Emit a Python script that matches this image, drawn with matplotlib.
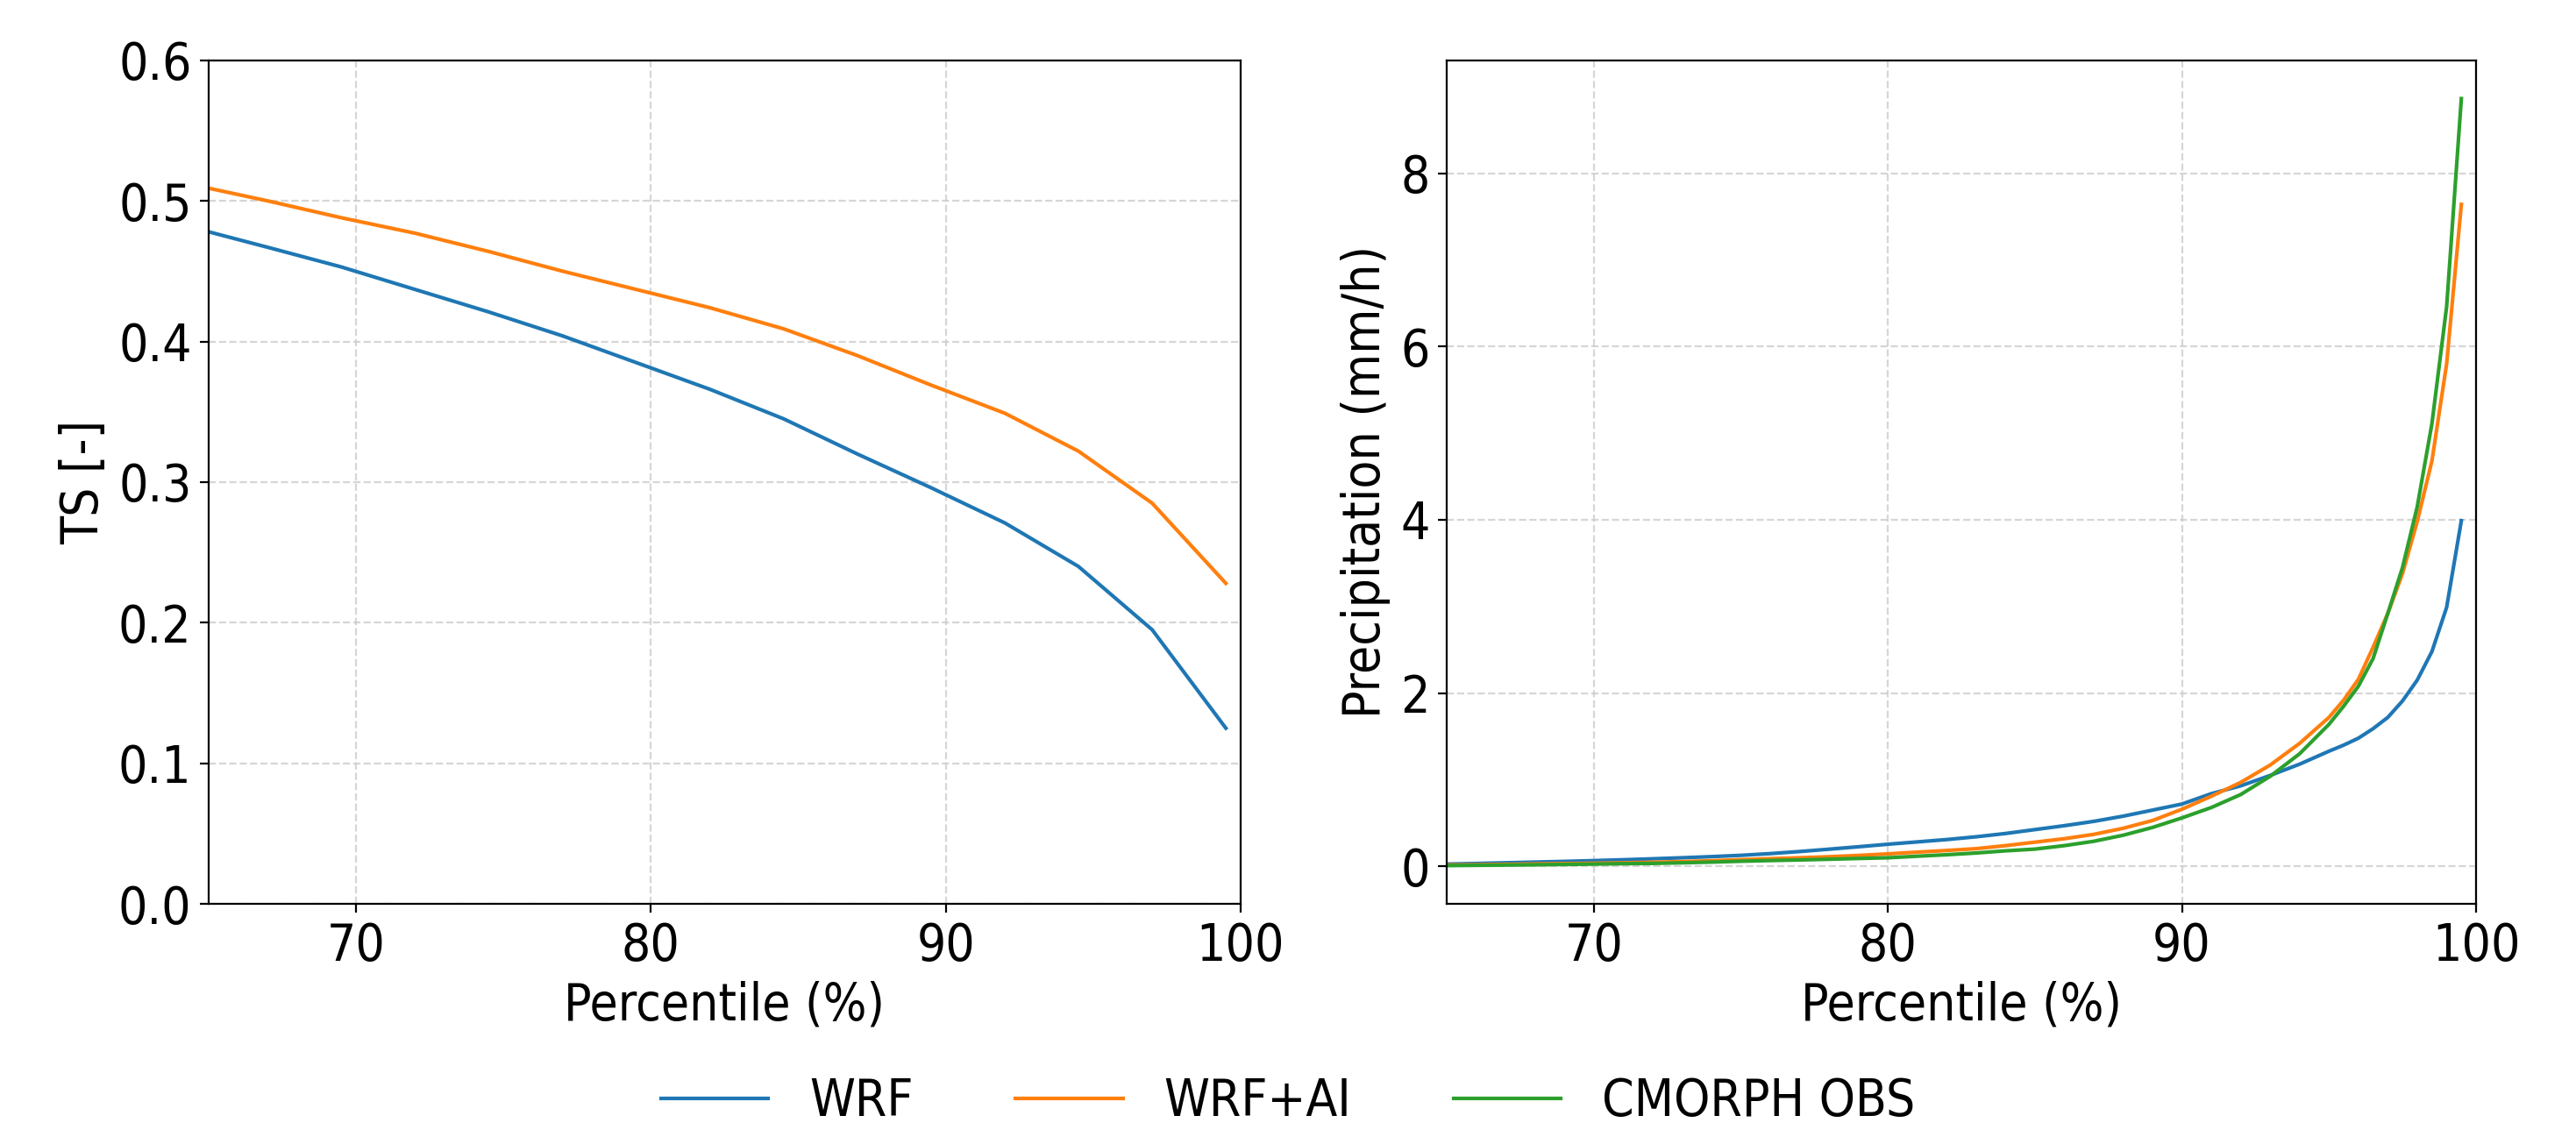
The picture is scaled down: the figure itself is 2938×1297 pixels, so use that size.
import numpy as np
import matplotlib
matplotlib.use('Agg')
import matplotlib.pyplot as plt

# left panel: threat score vs percentile threshold
ts_pct = [65, 67, 69.5, 72, 74.5, 77, 79.5, 82, 84.5, 87, 89.5, 92, 94.5, 97, 99.5]
ts_wrf = [0.478, 0.467, 0.453, 0.437, 0.421, 0.404, 0.385, 0.366, 0.345, 0.320,
          0.296, 0.271, 0.240, 0.195, 0.125]
ts_wrf_ai = [0.509, 0.500, 0.488, 0.477, 0.464, 0.450, 0.437, 0.424, 0.409, 0.390,
             0.369, 0.349, 0.322, 0.285, 0.228]

# right panel: precipitation at percentile
pr_pct = [65, 66, 67, 68, 69, 70, 71, 72, 73, 74, 75, 76, 77, 78, 79, 80, 81, 82, 83, 84,
          85, 86, 87, 88, 89, 90, 91, 92, 93, 94, 95, 95.5, 96, 96.5, 97, 97.5, 98,
          98.5, 99, 99.5]
pr_wrf = [0.027, 0.034, 0.042, 0.050, 0.058, 0.067, 0.077, 0.088, 0.100, 0.113,
          0.128, 0.148, 0.172, 0.199, 0.227, 0.256, 0.283, 0.310, 0.342, 0.380,
          0.425, 0.470, 0.520, 0.580, 0.650, 0.720, 0.840, 0.930, 1.050, 1.180,
          1.330, 1.400, 1.480, 1.590, 1.720, 1.910, 2.150, 2.480, 2.990, 3.990]
pr_wrf_ai = [0.017, 0.020, 0.024, 0.029, 0.033, 0.037, 0.042, 0.048, 0.056, 0.066,
             0.078, 0.090, 0.100, 0.112, 0.127, 0.145, 0.165, 0.184, 0.205, 0.240,
             0.280, 0.320, 0.370, 0.440, 0.530, 0.660, 0.810, 0.970, 1.170, 1.420,
             1.720, 1.920, 2.160, 2.530, 2.920, 3.380, 3.980, 4.680, 5.800, 7.640]
pr_obs = [0.010, 0.013, 0.016, 0.019, 0.023, 0.027, 0.032, 0.035, 0.042, 0.050,
          0.060, 0.068, 0.075, 0.083, 0.092, 0.100, 0.118, 0.135, 0.155, 0.180,
          0.200, 0.240, 0.290, 0.360, 0.450, 0.560, 0.680, 0.830, 1.040, 1.300,
          1.640, 1.850, 2.080, 2.400, 2.920, 3.450, 4.150, 5.110, 6.460, 8.860]

labels = ['WRF', 'WRF+AI', 'CMORPH OBS']
colors = ['#1f77b4', '#ff7f0e', '#2ca02c']

plt.rcParams['font.family'] = ['DejaVu Sans']
plt.rcParams['font.stretch'] = 'condensed'
plt.rcParams['font.size'] = 21

fig = plt.figure(figsize=(14.69, 6.485), dpi=200)
ax1 = fig.add_axes([0.081, 0.205, 0.4006, 0.742])
ax2 = fig.add_axes([0.5616, 0.205, 0.3996, 0.742])

ax1.plot(ts_pct, ts_wrf, color=colors[0], lw=1.5)
ax1.plot(ts_pct, ts_wrf_ai, color=colors[1], lw=1.5)
ax1.set_xlim(65, 100)
ax1.set_ylim(0, 0.6)
ax1.set_xticks([70, 80, 90, 100])
ax1.set_xlabel('Percentile (%)')
ax1.set_ylabel('TS [-]')
ax1.grid(True, ls='--', color='#cccccc', alpha=0.8, lw=0.8)

l1, = ax2.plot(pr_pct, pr_wrf, color=colors[0], lw=1.5)
l2, = ax2.plot(pr_pct, pr_wrf_ai, color=colors[1], lw=1.5)
l3, = ax2.plot(pr_pct, pr_obs, color=colors[2], lw=1.5)
ax2.set_xlim(65, 100)
ax2.set_xticks([70, 80, 90, 100])
ax2.set_yticks([0, 2, 4, 6, 8])
ax2.set_xlabel('Percentile (%)')
ax2.set_ylabel('Precipitation (mm/h)')
ax2.grid(True, ls='--', color='#cccccc', alpha=0.8, lw=0.8)

fig.legend([l1, l2, l3], labels, loc='center', bbox_to_anchor=(0.5, 0.031),
           ncol=3, frameon=False, handlelength=2.1)

fig.savefig('out.png', dpi=200)
